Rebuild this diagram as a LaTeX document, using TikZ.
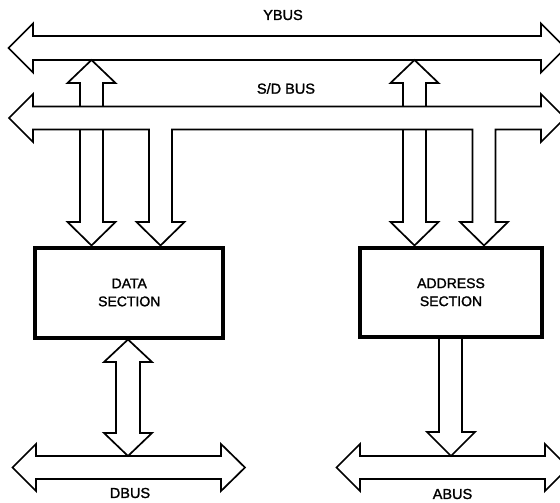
\documentclass[tikz,border=0pt]{standalone}
\usepackage{fontspec}
\setmainfont{Liberation Sans}[FakeBold=1.5]
\begin{document}
\begin{tikzpicture}[x=1bp,y=-1bp,line width=1.7bp,line join=miter,
  section/.style={draw,line width=4bp,align=center,font=\fontsize{14bp}{18bp}\selectfont,inner sep=0pt},
  buslabel/.style={font=\fontsize{14.5bp}{16bp}\selectfont,inner sep=0pt}]
\useasboundingbox (0,0) rectangle (560,503);

% functional blocks
\node[section,minimum width=187.5bp,minimum height=90bp] (data) at (129.25,292.5) {DATA\\SECTION};
\node[section,minimum width=182bp,minimum height=89.5bp] (addr) at (451,292.25) {ADDRESS\\SECTION};

% YBUS, double-headed
\draw (33,36) -- (541,36) -- (541,23.5) -- (565.5,48) -- (541,72.5) -- (541,60)
  -- (33,60) -- (33,72.5) -- (8.5,48) -- (33,23.5) -- cycle;
\node[buslabel] (ylab) at (283,15) {YBUS};

% S/D BUS with the two branches that drop into the sections
\draw (33,106.5) -- (541,106.5) -- (541,94) -- (565,118) -- (541,142) -- (541,129.5)
  -- (495.5,129.5) -- (495.5,222) -- (508,222) -- (484,245.5) -- (460,222) -- (472.5,222) -- (472.5,129.5)
  -- (172,129.5) -- (172,222) -- (184.5,222) -- (160.5,245.5) -- (136.5,222) -- (149,222) -- (149,129.5)
  -- (33,129.5) -- (33,142) -- (9,118) -- (33,94) -- cycle;
\node[buslabel] (sdlab) at (286,88.5) {S/D BUS};

% S/D BUS up to YBUS
\draw (80,106.5) -- (80,83) -- (67.5,83) -- (91.5,60) -- (115.5,83) -- (103,83) -- (103,106.5);
\draw (403,106.5) -- (403,83) -- (390.5,83) -- (414.5,60) -- (438.5,83) -- (426,83) -- (426,106.5);

% S/D BUS down into the sections
\draw (80,129.5) -- (80,222) -- (67.5,222) -- (91.5,245.5) -- (115.5,222) -- (103,222) -- (103,129.5);
\draw (403,129.5) -- (403,222) -- (390.5,222) -- (414.5,245.5) -- (438.5,222) -- (426,222) -- (426,129.5);

% data section <-> DBUS
\draw (116,362) -- (104,362) -- (128,339.5) -- (152,362) -- (140,362) -- (140,433)
  -- (152,433) -- (128,456) -- (104,433) -- (116,433) -- cycle;

% address section -> ABUS
\draw (439,339) -- (439,432) -- (427,432) -- (451,456) -- (475,432) -- (462,432) -- (462,339);

% DBUS
\draw (36,456) -- (221,456) -- (221,444) -- (245,467.5) -- (221,491) -- (221,479)
  -- (36,479) -- (36,491) -- (12.5,467.5) -- (36,444) -- cycle;
\node[buslabel] (dlab) at (130,493) {DBUS};

% ABUS
\draw (360,456) -- (545,456) -- (545,444) -- (568.5,467.5) -- (545,491) -- (545,479)
  -- (360,479) -- (360,491) -- (336.5,467.5) -- (360,444) -- cycle;
\node[buslabel] (alab) at (452.5,494) {ABUS};
\end{tikzpicture}
\end{document}
